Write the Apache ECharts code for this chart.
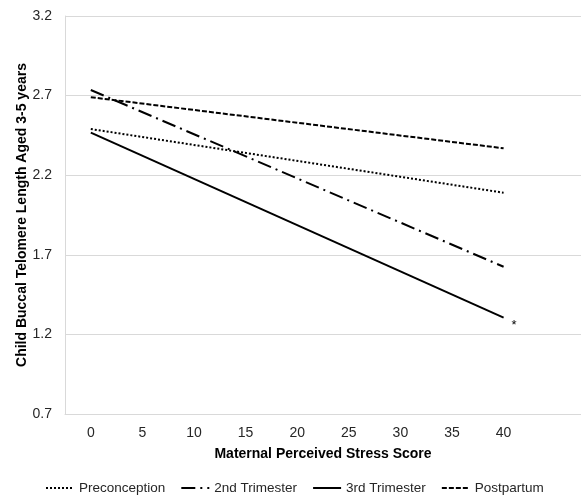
<!DOCTYPE html>
<html><head><meta charset="utf-8">
<script src="https://cdn.jsdelivr.net/npm/echarts@6/dist/echarts.min.js"></script>
<style>html,body{margin:0;padding:0;background:#fff}#c{width:581px;height:496px}</style>
</head><body><div id="c"></div>
<script>
var categories = ['0','5','10','15','20','25','30','35','40',''];
var yTicks = [0.7, 1.2, 1.7, 2.2, 2.7, 3.2];
var preconception = [2.49, null, null, null, null, null, null, null, 2.09, null];
var trimester2 = [2.735, null, null, null, null, null, null, null, 1.625, null];
var trimester3 = [2.467, null, null, null, null, null, null, null, 1.305, null];
var postpartum = [2.69, null, null, null, null, null, null, null, 2.369, null];

var chart = echarts.init(document.getElementById('c'));
var font = 'Liberation Sans, Arial, sans-serif';
function mk(name, data, type, extra) {
  var s = {
    name: name, type: 'line', data: data, connectNulls: true,
    symbol: 'none', silent: true, animation: false,
    itemStyle: { color: '#000' },
    lineStyle: { color: '#000', width: 2, type: type }
  };
  if (extra) Object.assign(s, extra);
  return s;
}
chart.setOption({
  animation: false,
  grid: { left: 65, right: 0, top: 16, bottom: 82, containLabel: false },
  xAxis: {
    type: 'category', data: categories, boundaryGap: true,
    axisLine: { show: true, lineStyle: { color: '#d9d9d9', width: 1 } },
    axisTick: { show: false },
    axisLabel: { color: '#262626', fontSize: 14, fontFamily: font, margin: 12 },
    name: 'Maternal Perceived Stress Score', nameLocation: 'middle', nameGap: 33,
    nameMoveOverlap: false,
    nameTextStyle: { color: '#000', fontWeight: 'bold', fontSize: 14, fontFamily: font }
  },
  yAxis: {
    type: 'value', min: yTicks[0], max: yTicks[yTicks.length-1], interval: 0.5,
    axisLine: { show: true, lineStyle: { color: '#d9d9d9', width: 1 } },
    axisTick: { show: false },
    splitLine: { lineStyle: { color: '#d9d9d9', width: 1 } },
    axisLabel: { color: '#262626', fontSize: 14, fontFamily: font, margin: 13,
      formatter: function (v) { return v.toFixed(1); } },
    name: 'Child Buccal Telomere Length Aged 3-5 years', nameLocation: 'middle', nameGap: 36,
    nameMoveOverlap: false,
    nameTextStyle: { color: '#000', fontWeight: 'bold', fontSize: 14, fontFamily: font }
  },
  legend: {
    top: 476, left: 40, itemWidth: 28, itemHeight: 10, itemGap: 15,
    itemStyle: { opacity: 0 },
    textStyle: { color: '#262626', fontSize: 13.5, fontFamily: font, padding: [0, 0, 0, 0] },
    data: ['Preconception', '2nd Trimester', '3rd Trimester', 'Postpartum']
  },
  series: [
    mk('Preconception', preconception, [2, 2]),
    mk('2nd Trimester', trimester2, [14, 5, 2, 5]),
    mk('3rd Trimester', trimester3, 'solid', {
      endLabel: { show: true, formatter: '*', color: '#000', fontSize: 13,
        fontFamily: font, offset: [0, 8] }
    }),
    mk('Postpartum', postpartum, [5, 2])
  ]
});
</script></body></html>
